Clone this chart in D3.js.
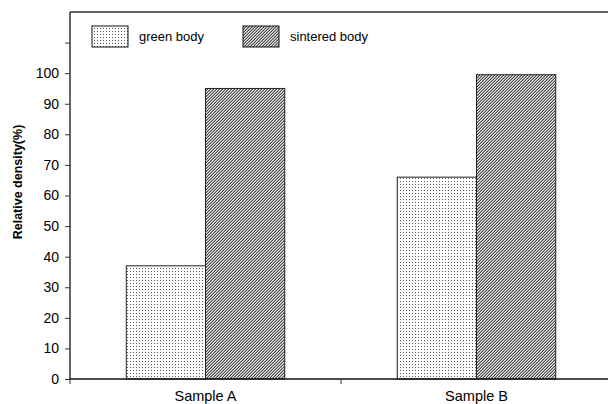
<!DOCTYPE html>
<html>
<head>
<meta charset="utf-8">
<script src="https://cdn.jsdelivr.net/npm/d3@7"></script>
<style>
  html, body { margin: 0; padding: 0; background: #fff; }
  svg { display: block; }
  text { font-family: "Liberation Sans", Arial, sans-serif; fill: #000; }
</style>
</head>
<body>
<svg id="chart" width="608" height="404"></svg>
<script>
// Relative density of green and sintered bodies
const samples = ["Sample A", "Sample B"];
const seriesNames = ["green body", "sintered body"];
const greenBody = [37, 66];
const sinteredBody = [95, 99.5];
const yTicks = [0, 10, 20, 30, 40, 50, 60, 70, 80, 90, 100, 110];
const yTickLabels = ["0", "10", "20", "30", "40", "50", "60", "70", "80", "90", "100", ""];

const svg = d3.select("#chart");
const margin = { left: 70, right: -4, top: 12, bottom: 25 };
const W = 608, H = 404;

const x = d3.scaleBand().domain(samples)
  .range([margin.left, W - margin.right]).paddingInner(0).paddingOuter(0);
const xSub = d3.scaleBand().domain(seriesNames)
  .range([0, x.bandwidth()]).paddingInner(0).paddingOuter(0.71);
const y = d3.scaleLinear().domain([0, 120]).range([H - margin.bottom, margin.top]);

// fill patterns
const defs = svg.append("defs");
const dots = defs.append("pattern").attr("id", "dots")
  .attr("patternUnits", "userSpaceOnUse").attr("width", 3).attr("height", 3);
dots.append("rect").attr("width", 3).attr("height", 3).attr("fill", "#fff");
dots.append("rect").attr("x", 1).attr("y", 1).attr("width", 1).attr("height", 1).attr("fill", "#555");

const hatch = defs.append("pattern").attr("id", "hatch")
  .attr("patternUnits", "userSpaceOnUse").attr("width", 3).attr("height", 3);
hatch.append("rect").attr("width", 3).attr("height", 3).attr("fill", "#e2e2e2");
[[0,2],[1,1],[2,0]].forEach(([px, py]) => {
  hatch.append("rect").attr("x", px).attr("y", py).attr("width", 1).attr("height", 1).attr("fill", "#4a4a4a");
});
[[0,1],[1,0],[2,2]].forEach(([px, py]) => {
  hatch.append("rect").attr("x", px).attr("y", py).attr("width", 1).attr("height", 1).attr("fill", "#a4a4a4");
});

const fills = { "green body": "url(#dots)", "sintered body": "url(#hatch)" };
const seriesData = [
  { name: "green body", values: greenBody },
  { name: "sintered body", values: sinteredBody }
];

// bars
seriesData.forEach(s => {
  svg.append("g").selectAll("rect").data(s.values).join("rect")
    .attr("x", (d, i) => x(samples[i]) + xSub(s.name))
    .attr("y", d => y(d))
    .attr("width", xSub.bandwidth())
    .attr("height", d => y(0) - y(d))
    .attr("fill", fills[s.name])
    .attr("stroke", "#222")
    .attr("stroke-width", 1);
});

// frame top line
svg.append("line")
  .attr("x1", margin.left).attr("x2", W)
  .attr("y1", y(120)).attr("y2", y(120))
  .attr("stroke", "#333").attr("stroke-width", 1.5);

// y axis
const yAxis = d3.axisLeft(y).tickValues(yTicks)
  .tickFormat((d, i) => yTickLabels[i]).tickSize(5).tickSizeOuter(0);
const gy = svg.append("g").attr("transform", `translate(${margin.left},0)`).call(yAxis);
gy.select(".domain").attr("stroke", "#333").attr("stroke-width", 1.5)
  .attr("d", `M0,${y(0)}V${y(120)}`);
gy.selectAll(".tick line").attr("stroke", "#333");
gy.selectAll(".tick text").attr("font-size", 14).attr("x", -11)
  .attr("font-family", "Liberation Sans, Arial, sans-serif");

// x axis
const xAxis = d3.axisBottom(x).tickSize(0).tickSizeOuter(0);
const gx = svg.append("g").attr("transform", `translate(0,${y(0)})`).call(xAxis);
gx.select(".domain").attr("stroke", "#111").attr("stroke-width", 1.5)
  .attr("d", `M${margin.left},0H${W}`);
gx.selectAll(".tick text").attr("font-size", 14.5).attr("y", 8).attr("dy", "0.95em")
  .attr("font-family", "Liberation Sans, Arial, sans-serif");
// category boundary ticks
svg.append("g").selectAll("line").data(samples).join("line")
  .attr("x1", d => x(d)).attr("x2", d => x(d))
  .attr("y1", y(0)).attr("y2", y(0) + 5)
  .attr("stroke", "#333");

// y axis title
svg.append("text")
  .attr("transform", `translate(22,182) rotate(-90)`)
  .attr("text-anchor", "middle")
  .attr("font-size", 12.5).attr("font-weight", "bold")
  .text("Relative density(%)");

// legend
const legend = svg.append("g");
const legendX = [92, 243];
seriesData.forEach((s, i) => {
  legend.append("rect")
    .attr("x", legendX[i]).attr("y", 26)
    .attr("width", 36).attr("height", 21)
    .attr("fill", fills[s.name]).attr("stroke", "#111");
  legend.append("text")
    .attr("x", legendX[i] + 47).attr("y", 41)
    .attr("font-size", 13)
    .text(s.name);
});
</script>
</body>
</html>
